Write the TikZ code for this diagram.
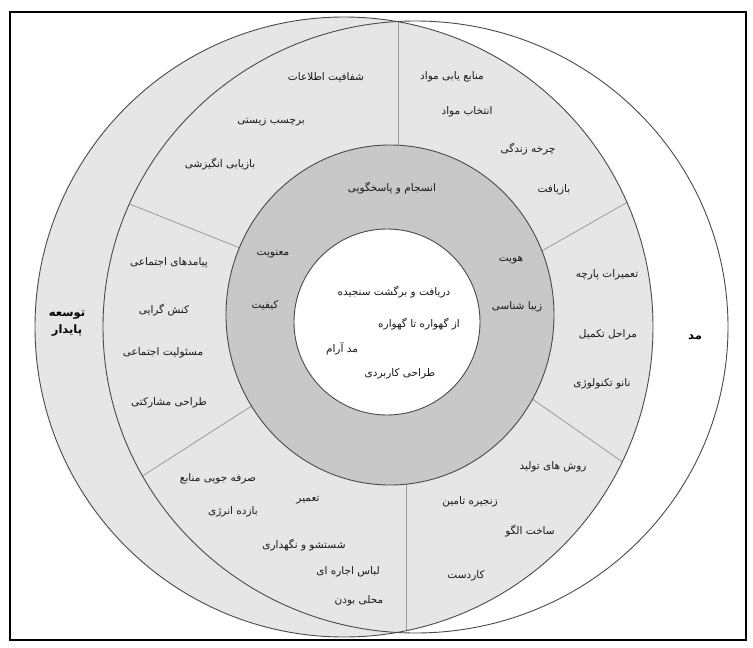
\documentclass[tikz,border=0pt]{standalone}
\usepackage{fontspec}
\newfontfamily\fa[Script=Arabic]{DejaVu Sans}
\TeXXeTstate=1
\definecolor{bandgray}{HTML}{E6E6E6}
\definecolor{ringgray}{HTML}{C8C8C8}
\definecolor{edgegray}{HTML}{4A4A4A}
\definecolor{divgray}{HTML}{9A9A9A}
\tikzset{
  lbl/.style={font=\fa\fontsize{10.5}{12}\selectfont, inner sep=1pt, text=black!90},
  biglbl/.style={font=\fa\bfseries\fontsize{11.5}{13}\selectfont, inner sep=1pt, align=center},
  outline/.style={draw=edgegray, line width=0.9pt},
  divider/.style={draw=divgray, line width=0.8pt},
}
\begin{document}
\begin{tikzpicture}[x=1pt,y=-1pt]
\useasboundingbox (0,0) rectangle (753,648);
\fill[white] (0,0) rectangle (753,648);
% left ellipse (sustainable development), filled
\fill[bandgray] (344,327) ellipse [x radius=309pt, y radius=310pt];
% dividers clipped to the lens
\begin{scope}
  \clip (344,327) ellipse [x radius=309pt, y radius=310pt];
  \clip (415.5,327) ellipse [x radius=312.5pt, y radius=306pt];
  \coordinate (d1a) at (398,200); \coordinate (d1b) at (398,-10);
  \coordinate (d2a) at (507.5,270.5); \coordinate (d2b) at (665.5,180.5);
  \coordinate (d3a) at (495,373); \coordinate (d3b) at (667,493);
  \coordinate (d4a) at (406,450); \coordinate (d4b) at (406,660);
  \coordinate (d5a) at (303,373); \coordinate (d5b) at (91,509);
  \coordinate (d6a) at (281.5,264.5); \coordinate (d6b) at (75.5,182.5);
  \draw[divider] (d1a) -- (d1b);
  \draw[divider] (d2a) -- (d2b);
  \draw[divider] (d3a) -- (d3b);
  \draw[divider] (d4a) -- (d4b);
  \draw[divider] (d5a) -- (d5b);
  \draw[divider] (d6a) -- (d6b);
\end{scope}
\draw[outline] (344,327) ellipse [x radius=309pt, y radius=310pt];
\draw[outline] (415.5,327) ellipse [x radius=312.5pt, y radius=306pt];
% ring and centre
\filldraw[fill=ringgray, draw=edgegray, line width=0.9pt] (390,315) ellipse [x radius=164pt, y radius=170pt];
\filldraw[fill=white, draw=edgegray, line width=0.9pt] (387,322) circle [radius=93pt];
% frame
\draw[line width=2pt] (10,12) rectangle (746,640);

% outer labels
\node[biglbl] (sd) at (67,324) {\beginR توسعه\endR\\[4pt]\beginR پایدار\endR};
\node[biglbl] (md) at (695,337) {\beginR مد\endR};

% top-left sector
\node[lbl] (a1) at (326,77) {\beginR شفافیت اطلاعات\endR};
\node[lbl] (a2) at (271,122) {\beginR برچسب زیستی\endR};
\node[lbl] (a3) at (220,164) {\beginR بازیابی انگیزشی\endR};
% top-right sector
\node[lbl] (b1) at (452,77) {\beginR منابع یابی مواد\endR};
\node[lbl] (b2) at (467,112) {\beginR انتخاب مواد\endR};
\node[lbl] (b3) at (528,149) {\beginR چرخه زندگی\endR};
\node[lbl] (b4) at (554,190) {\beginR بازیافت\endR};
% right sector
\node[lbl] (c1) at (607,275) {\beginR تعمیرات پارچه\endR};
\node[lbl] (c2) at (608,335) {\beginR مراحل تکمیل\endR};
\node[lbl] (c3) at (602,384) {\beginR نانو تکنولوژی\endR};
% bottom-right sector
\node[lbl] (e1) at (553,467) {\beginR روش های تولید\endR};
\node[lbl] (e2) at (470,502) {\beginR زنجیره تامین\endR};
\node[lbl] (e3) at (530,531) {\beginR ساخت الگو\endR};
\node[lbl] (e4) at (466,576) {\beginR کاردست\endR};
% bottom-left sector
\node[lbl] (f1) at (218,479) {\beginR صرفه جویی منابع\endR};
\node[lbl] (f2) at (308,500) {\beginR تعمیر\endR};
\node[lbl] (f3) at (233,512) {\beginR بازده انرژی\endR};
\node[lbl] (f4) at (304,545) {\beginR شستشو و نگهداری\endR};
\node[lbl] (f5) at (348,572) {\beginR لباس اجاره ای\endR};
\node[lbl] (f6) at (359,601) {\beginR محلی بودن\endR};
% left sector
\node[lbl] (g1) at (169,263) {\beginR پیامدهای اجتماعی\endR};
\node[lbl] (g2) at (164,310) {\beginR کنش گرایی\endR};
\node[lbl] (g3) at (163,353) {\beginR مسئولیت اجتماعی\endR};
\node[lbl] (g4) at (169,403) {\beginR طراحی مشارکتی\endR};
% ring
\node[lbl] (r1) at (392,188) {\beginR انسجام و پاسخگویی\endR};
\node[lbl] (r2) at (273,254) {\beginR معنویت\endR};
\node[lbl] (r3) at (265,305) {\beginR کیفیت\endR};
\node[lbl] (r4) at (511,260) {\beginR هویت\endR};
\node[lbl] (r5) at (517,307) {\beginR زیبا شناسی\endR};
% centre
\node[lbl] (m1) at (394,292) {\beginR دریافت و برگشت سنجیده\endR};
\node[lbl] (m2) at (419,324) {\beginR از گهواره تا گهواره\endR};
\node[lbl] (m3) at (342,349) {\beginR مد آرام\endR};
\node[lbl] (m4) at (400,374) {\beginR طراحی کاربردی\endR};
\end{tikzpicture}
\end{document}
